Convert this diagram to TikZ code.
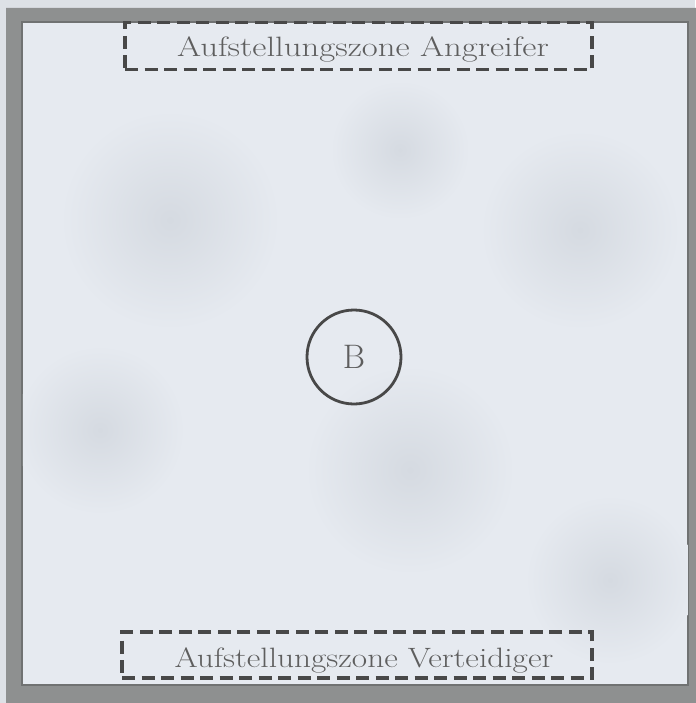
\documentclass[tikz,border=0pt]{standalone}
\definecolor{paper}{HTML}{E6EAF0}
\definecolor{outside}{HTML}{DDE1E6}
\definecolor{framegray}{HTML}{8E9090}
\definecolor{framedark}{HTML}{707272}
\definecolor{inkgray}{HTML}{484848}
\definecolor{textgray}{HTML}{5E5E5E}
\definecolor{smudge}{HTML}{D5DAE1}
\tikzset{
  zone/.style={draw=inkgray, line width=3.4pt, dash pattern=on 13pt off 6.5pt,
    minimum width=467pt, minimum height=47pt, inner sep=0pt},
  zonelabel/.style={text=textgray, inner sep=0pt, anchor=base,
    font=\fontsize{28}{30}\selectfont},
  ballmark/.style={circle, draw=inkgray, line width=2.8pt, minimum size=94pt,
    inner sep=0pt, text=textgray, font=\fontsize{34}{36}\selectfont},
  blob/.style={inner color=smudge, outer color=paper}
}
\begin{document}
\begin{tikzpicture}[x=1pt,y=-1pt]
\useasboundingbox (0,0) rectangle (695,703);
\fill[outside] (0,0) rectangle (695,703);
% frame
\fill[framegray, even odd rule] (6,8) rectangle (700,710) (22,22) rectangle (688,685);
\draw[framedark, line width=1.5pt] (22,22) rectangle (688,685);
\fill[paper] (22.75,22.75) rectangle (687.25,684.25);
% soft mottling
\begin{scope}
\clip (22.75,22.75) rectangle (687.25,684.25);
\shade[blob] (170,220) circle (110);
\shade[blob] (580,230) circle (100);
\shade[blob] (100,430) circle (85);
\shade[blob] (410,470) circle (105);
\shade[blob] (610,580) circle (85);
\shade[blob] (400,150) circle (70);
\end{scope}
% zones
\node[zone] (attack) at (358.5,46) {};
\node[zonelabel] (attacklbl) at (363,57) {\scalebox{1.24}[1]{Aufstellungszone Angreifer}};
\node[zone, minimum width=470pt, minimum height=46pt] (defend) at (357,655) {};
\node[zonelabel] (defendlbl) at (364,667.5) {\scalebox{1.19}[1]{Aufstellungszone Verteidiger}};
% ball marker
\node[ballmark] (ball) at (354,357) {B};
\end{tikzpicture}
\end{document}
